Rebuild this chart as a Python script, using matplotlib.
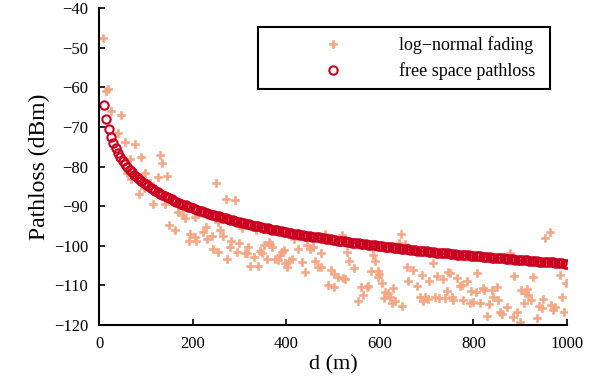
import numpy as np
import matplotlib
matplotlib.use("Agg")
import matplotlib.pyplot as plt

# free space pathloss, one circle every 5 m from 10 m to 1000 m
d_free = np.arange(10, 1001, 5)
pl_free = [
    -64.5, -68.0, -70.5, -72.5, -74.0, -75.4, -76.5, -77.6, -78.5, -79.3,
    -80.1, -80.8, -81.4, -82.0, -82.6, -83.1, -83.6, -84.1, -84.5, -84.9,
    -85.3, -85.7, -86.1, -86.4, -86.8, -87.1, -87.4, -87.7, -88.0, -88.3,
    -88.6, -88.9, -89.1, -89.4, -89.6, -89.8, -90.1, -90.3, -90.5, -90.7,
    -90.9, -91.1, -91.3, -91.5, -91.7, -91.9, -92.1, -92.3, -92.5, -92.6,
    -92.8, -93.0, -93.1, -93.3, -93.4, -93.6, -93.8, -93.9, -94.0, -94.2,
    -94.3, -94.5, -94.6, -94.7, -94.9, -95.0, -95.1, -95.3, -95.4, -95.5,
    -95.6, -95.7, -95.9, -96.0, -96.1, -96.2, -96.3, -96.4, -96.5, -96.7,
    -96.8, -96.9, -97.0, -97.1, -97.2, -97.3, -97.4, -97.5, -97.6, -97.7,
    -97.8, -97.9, -97.9, -98.0, -98.1, -98.2, -98.3, -98.4, -98.5, -98.6,
    -98.7, -98.7, -98.8, -98.9, -99.0, -99.1, -99.2, -99.2, -99.3, -99.4,
    -99.5, -99.5, -99.6, -99.7, -99.8, -99.8, -99.9, -100.0, -100.1, -100.1,
    -100.2, -100.3, -100.4, -100.4, -100.5, -100.6, -100.6, -100.7, -100.8, -100.8,
    -100.9, -101.0, -101.0, -101.1, -101.2, -101.2, -101.3, -101.3, -101.4, -101.5,
    -101.5, -101.6, -101.7, -101.7, -101.8, -101.8, -101.9, -101.9, -102.0, -102.1,
    -102.1, -102.2, -102.2, -102.3, -102.3, -102.4, -102.4, -102.5, -102.6, -102.6,
    -102.7, -102.7, -102.8, -102.8, -102.9, -102.9, -103.0, -103.0, -103.1, -103.1,
    -103.2, -103.2, -103.3, -103.3, -103.4, -103.4, -103.5, -103.5, -103.6, -103.6,
    -103.7, -103.7, -103.8, -103.8, -103.9, -103.9, -104.0, -104.0, -104.1, -104.1,
    -104.2, -104.2, -104.2, -104.3, -104.3, -104.4, -104.4, -104.5, -104.5,
]

# log-normal fading samples
d_fade = [
    9, 15, 18, 25, 40, 46, 56, 59, 65, 68,
    76, 84, 90, 95, 98, 108, 115, 125, 129, 135,
    140, 145, 149, 161, 168, 179, 184, 191, 195, 204,
    205, 207, 222, 229, 231, 241, 243, 249, 254, 254,
    259, 264, 271, 274, 279, 282, 290, 294, 298, 305,
    311, 316, 319, 323, 330, 335, 339, 344, 348, 353,
    358, 362, 365, 370, 375, 382, 387, 390, 394, 397,
    401, 406, 412, 417, 425, 434, 439, 444, 451, 456,
    462, 467, 474, 474, 483, 490, 496, 501, 503, 511,
    519, 521, 526, 529, 535, 545, 554, 559, 563, 572,
    575, 581, 585, 590, 595, 597, 599, 604, 609, 611,
    618, 622, 625, 629, 633, 642, 645, 647, 654, 659,
    661, 670, 679, 685, 690, 692, 697, 702, 706, 714,
    718, 723, 727, 734, 739, 743, 746, 750, 754, 757,
    764, 771, 775, 778, 786, 793, 795, 800, 805, 808,
    814, 820, 823, 830, 834, 839, 843, 850, 852, 857,
    862, 871, 878, 885, 887, 893, 900, 902, 909, 910,
    914, 917, 923, 928, 935, 941, 946, 949, 953, 964,
    967, 971, 974, 985, 989, 994, 999,
]
pl_fade = [
    -47.6, -60.9, -60.5, -66.0, -71.6, -67.1, -73.9, -81.7, -78.2, -83.2,
    -74.4, -86.8, -77.7, -85.5, -81.7, -84.2, -89.5, -82.6, -77.2, -79.2,
    -89.5, -82.4, -94.8, -95.9, -91.4, -92.2, -93.1, -98.9, -97.0, -97.9,
    -92.7, -98.7, -96.5, -95.2, -98.4, -97.5, -100.7, -84.2, -93.9, -101.5,
    -95.9, -97.5, -88.2, -103.4, -100.4, -98.7, -88.4, -101.5, -99.4, -95.6,
    -101.8, -101.9, -100.4, -105.1, -102.9, -96.0, -105.1, -101.3, -101.9, -99.8,
    -103.4, -99.0, -99.6, -100.4, -103.4, -103.6, -102.3, -101.5, -101.1, -104.4,
    -105.3, -103.8, -103.4, -98.2, -100.9, -104.0, -106.6, -99.8, -100.9, -100.4,
    -103.8, -105.3, -105.3, -101.8, -96.9, -110.0, -106.1, -107.1, -110.5, -108.0,
    -97.3, -108.2, -108.5, -101.5, -103.8, -105.7, -113.9, -110.5, -112.4, -110.5,
    -110.2, -106.3, -102.3, -103.8, -106.3, -107.8, -107.1, -109.3, -113.3, -111.6,
    -112.0, -112.9, -114.5, -110.7, -113.9, -99.4, -96.9, -115.2, -99.6, -105.3,
    -108.8, -106.0, -110.2, -113.0, -107.4, -113.9, -113.0, -113.5, -108.8, -104.3,
    -112.9, -107.6, -113.3, -108.5, -113.3, -111.4, -106.6, -106.8, -113.0, -113.7,
    -108.2, -110.2, -110.0, -113.7, -108.8, -114.5, -111.4, -114.1, -111.6, -106.8,
    -114.4, -110.7, -111.2, -117.7, -114.7, -111.2, -113.0, -110.5, -113.7, -116.6,
    -117.2, -115.5, -101.9, -117.9, -107.6, -116.6, -119.2, -111.2, -114.5, -112.0,
    -111.0, -112.4, -113.7, -108.0, -118.3, -115.2, -115.8, -113.5, -98.1, -96.5,
    -115.0, -116.2, -115.4, -107.4, -113.0, -116.6, -109.5,
]

x_ticks = [0, 200, 400, 600, 800, 1000]
y_ticks = [-120, -110, -100, -90, -80, -70, -60, -50, -40]

plt.rcParams['font.family'] = ['Liberation Serif', 'DejaVu Serif']
plt.rcParams['font.size'] = 12

fig = plt.figure(figsize=(5.98, 3.89), dpi=100)
ax = fig.add_axes([0.166, 0.1645, 0.782, 0.8145])

ax.plot(d_fade, pl_fade, linestyle='none', marker='P', markersize=6,
        color='#f4a582', markeredgewidth=0.4, label='log\u2212normal fading')
ax.plot(d_free, pl_free, linestyle='none', marker='o', markersize=6,
        markerfacecolor='none', markeredgecolor='#ca0020', markeredgewidth=1.5,
        label='free space pathloss')

ax.set_xlim(0, 1000)
ax.set_ylim(-120, -40)
ax.set_xticks(x_ticks)
ax.set_yticks(y_ticks)
ax.spines['top'].set_visible(False)
ax.spines['right'].set_visible(False)
ax.spines['left'].set_linewidth(1.5)
ax.spines['bottom'].set_linewidth(1.5)
ax.tick_params(direction='in', length=4, width=1.2, pad=8, labelsize=12)

ax.set_xlabel('d (m)', fontsize=16, labelpad=2)
ax.set_ylabel('Pathloss (dBm)', fontsize=17, labelpad=3)

# box stretched to the reference width, contents left aligned
leg = ax.legend(loc='upper left', bbox_to_anchor=(0.340, 0.757, 0.624, 0.182),
                mode='expand', handlelength=7.3, handletextpad=0.0,
                borderpad=0.5, labelspacing=0.45, fancybox=False,
                framealpha=1, borderaxespad=0, fontsize=13)
leg.get_frame().set_edgecolor('black')
leg.get_frame().set_linewidth(1.5)

fig.savefig('out.png', dpi=100)
